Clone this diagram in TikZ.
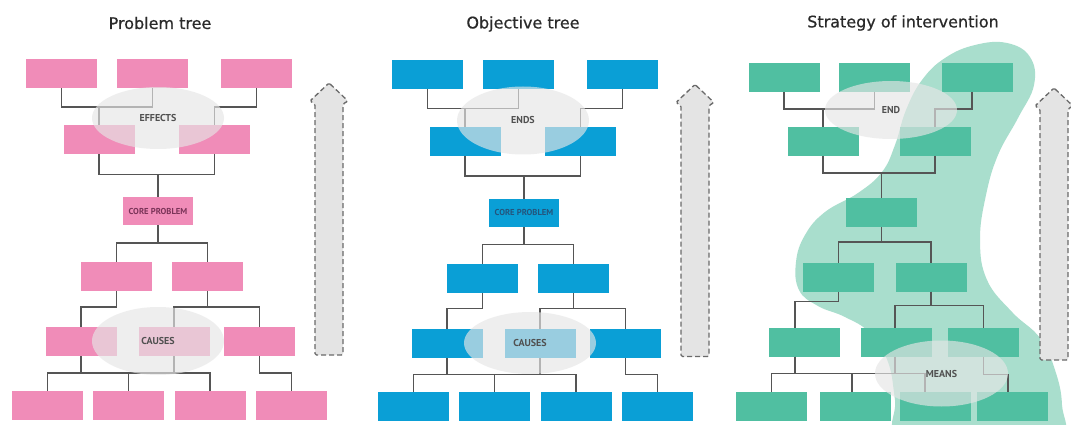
\documentclass[tikz,border=0pt]{standalone}
\usepackage{fontspec}
\setmainfont{DejaVu Sans}
\newfontfamily\titlefont[FakeBold=0.6]{DejaVu Sans}
\newfontfamily\labelfont{PT Sans}
\usetikzlibrary{shapes.geometric}

\definecolor{pinkbox}{HTML}{F08CB8}
\definecolor{bluebox}{HTML}{0A9FD6}
\definecolor{greenbox}{HTML}{50BFA1}
\definecolor{blobgreen}{HTML}{A9DECD}
\definecolor{linegray}{HTML}{555555}
\definecolor{hazegray}{HTML}{E6E6E6}
\definecolor{arrowfill}{HTML}{E4E4E4}
\definecolor{arrowline}{HTML}{6A6A6A}
\definecolor{labelgray}{HTML}{505050}
\definecolor{titlegray}{HTML}{2A2A2A}
\definecolor{corepink}{HTML}{7A3358}
\definecolor{coreblue}{HTML}{24557D}

\tikzset{
  box/.style={minimum width=71pt, minimum height=29pt, inner sep=0pt, outer sep=0pt},
  link/.style={draw=linegray, line width=1.9pt},
  haze/.style={ellipse, fill=hazegray, fill opacity=0.65, text opacity=1,
               inner sep=0pt, text=labelgray, font=\labelfont\bfseries\fontsize{10}{10}\selectfont},
  coretext/.style={font=\labelfont\bfseries\fontsize{8.6}{8.6}\selectfont},
  title/.style={font=\titlefont\fontsize{16}{16}\selectfont, text=titlegray},
  uparrow/.style={fill=arrowfill, draw=arrowline, dashed, dash pattern=on 5pt off 3pt,
                  line width=1.3pt, rounded corners=1.5pt}
}

% Connectors shared by the problem / objective trees (names get the scope prefix)
\newcommand\causetree{%
  \draw[link] (r1a.south) -- ++(0,19) -| (r2a.north);
  \draw[link] (r1b.south) -- ++(0,19) -| (r2a.north);
  \draw[link] (r1c.south) -- ++(0,19) -| (r2b.north);
  \draw[link] (r2a.south) -- ++(0,20) -| (core.north);
  \draw[link] (r2b.south) -- ++(0,20) -| (core.north);
  \draw[link] (core.south) -- ++(0,18) -| (r3a.north);
  \draw[link] (core.south) -- ++(0,18) -| (r3b.north);
  \draw[link] (r3a.south) -- ++(0,16) -| (r4a.north);
  \draw[link] (r3b.south) -- ++(0,16) -| (r4b.north);
  \draw[link] (r3b.south) -- ++(0,16) -| (r4c.north);
  \draw[link] (r4a.south) -- ++(0,17) -| (r5a.north);
  \draw[link] (r4a.south) -- ++(0,17) -| (r5b.north);
  \draw[link] (r4a.south) -- ++(0,17) -| (r5c.north);
  \draw[link] (r4b.south) -- ++(0,17) -| (r5c.north);
  \draw[link] (r4c.south) -- ++(0,17) -| (r5d.north);
}
% Boxes of the problem / objective trees: #1 fill, #2 core text, #3 core text colour
\newcommand\causeboxes[3]{%
  \node[box, fill=#1] (r1a) at (61.5,73.5) {};
  \node[box, fill=#1] (r1b) at (152.5,73.5) {};
  \node[box, fill=#1] (r1c) at (256.5,73.5) {};
  \node[box, fill=#1] (r2a) at (99,140) {};
  \node[box, fill=#1] (r2b) at (214.5,140) {};
  \node[box, fill=#1, minimum width=70pt, minimum height=28pt, coretext, text=#3] (core) at (158,211) {#2};
  \node[box, fill=#1] (r3a) at (116.5,276.5) {};
  \node[box, fill=#1] (r3b) at (207.5,276.5) {};
  \node[box, fill=#1] (r4a) at (81,341.5) {};
  \node[box, fill=#1] (r4b) at (174,341.5) {};
  \node[box, fill=#1] (r4c) at (259.5,341.5) {};
  \node[box, fill=#1] (r5a) at (47.5,405) {};
  \node[box, fill=#1] (r5b) at (128.5,405) {};
  \node[box, fill=#1] (r5c) at (210,405) {};
  \node[box, fill=#1] (r5d) at (291.5,405) {};
}

\begin{document}
\begin{tikzpicture}[x=1pt, y=-1pt]
  \useasboundingbox (0,0) rectangle (1071,425);
  \clip (0,0) rectangle (1071,425);
  \fill[white] (0,0) rectangle (1071,425);

  % ---------- Problem tree ----------
  \node[title] (t1) at (160,23) {Problem tree};
  \begin{scope}[name prefix=p-]
    \causeboxes{pinkbox}{CORE PROBLEM}{corepink}
    \causetree
    \causeboxes{pinkbox}{CORE PROBLEM}{corepink}
    \node[haze, minimum width=132pt, minimum height=62pt] (effects) at (158,118) {EFFECTS};
    \node[haze, minimum width=132pt, minimum height=68pt] (causes) at (158,341) {CAUSES};
    \draw[uparrow] (329,83) -- (348,101) -- (343,104) -- (343,355) -- (315,355)
                   -- (315,104) -- (310,101) -- cycle;
  \end{scope}

  % ---------- Objective tree ----------
  \node[title] (t2) at (523,24) {Objective tree};
  \begin{scope}[shift={(366,1.5)}, name prefix=o-]
    \causeboxes{bluebox}{CORE PROBLEM}{coreblue}
    \causetree
    \causeboxes{bluebox}{CORE PROBLEM}{coreblue}
    \node[haze, minimum width=132pt, minimum height=68pt] (ends) at (157,119) {ENDS};
    \node[haze, minimum width=132pt, minimum height=62pt] (causes) at (164,341.5) {CAUSES};
    \draw[uparrow] (329,83) -- (348,101) -- (343,104) -- (343,355) -- (315,355)
                   -- (315,104) -- (310,101) -- cycle;
  \end{scope}

  % ---------- Strategy of intervention ----------
  \node[title] (t3) at (903,23) {Strategy of intervention};
  \fill[blobgreen] plot[smooth cycle, tension=0.7] coordinates {
    (1007,43) (1030,57) (1034,85) (1018,118) (998,155) (986,195) (980,240)
    (987,280) (1012,312) (1040,338) (1055,370) (1062,405) (1058,440) (980,445)
    (900,438) (895,400) (888,362) (870,333) (845,317) (818,306) (799,290)
    (796,262) (805,235) (825,212) (858,193) (882,172) (895,145) (906,110)
    (922,80) (945,58) (975,45)};
  \begin{scope}[name prefix=s-]
    \node[box, fill=greenbox] (r1a) at (784,77.5) {};
    \node[box, fill=greenbox] (r1b) at (874.5,77.5) {};
    \node[box, fill=greenbox] (r1c) at (977.5,77.5) {};
    \node[box, fill=greenbox] (r2a) at (823,141.5) {};
    \node[box, fill=greenbox] (r2b) at (935,141.5) {};
    \node[box, fill=greenbox] (core) at (881.5,212.5) {};
    \node[box, fill=greenbox] (r3a) at (838.5,277) {};
    \node[box, fill=greenbox] (r3b) at (931,277) {};
    \node[box, fill=greenbox] (r4a) at (804.5,342) {};
    \node[box, fill=greenbox] (r4b) at (896.5,342) {};
    \node[box, fill=greenbox] (r4c) at (983.5,342) {};
    \node[box, fill=greenbox] (r5a) at (771.5,406.5) {};
    \node[box, fill=greenbox] (r5b) at (855.5,406.5) {};
    \node[box, fill=greenbox] (r5c) at (935.5,406.5) {};
    \node[box, fill=greenbox] (r5d) at (1012.5,406.5) {};

    \draw[link] (r1a.south) -- ++(0,17) -| (r2a.north);
    \draw[link] (r1b.south) -- ++(0,17) -| (r2a.north);
    \draw[link] ([xshift=-5.5pt]r1c.south) -- ++(0,17) -| (r2b.north);
    \draw[link] (r2a.south) -- ++(0,17) -| (core.north);
    \draw[link] (r2b.south) -- ++(0,17) -| (core.north);
    \draw[link] (core.south) -- ++(0,15) -| (r3a.north);
    \draw[link] (core.south) -- ++(0,15) -| (r3b.north);
    \draw[link] (r3a.south) -- ++(0,10) -| ([xshift=-9.5pt]r4a.north);
    \draw[link] (r3b.south) -- ++(0,14) -| ([xshift=-1.5pt]r4b.north);
    \draw[link] (r3b.south) -- ++(0,14) -| (r4c.north);
    \draw[link] ([xshift=-9.5pt]r4a.south) -- ++(0,17) -| (r5a.north);
    \draw[link] ([xshift=-9.5pt]r4a.south) -- ++(0,17) -| ([xshift=-3.5pt]r5b.north);
    \draw[link] ([xshift=-9.5pt]r4a.south) -- ++(0,17) -| ([xshift=-10.5pt]r5c.north);
    \draw[link] ([xshift=-1.5pt]r4b.south) -- ++(0,17) -| ([xshift=-10.5pt]r5c.north);
    \draw[link] (r4c.south) -- ++(0,18) -| ([xshift=-4.5pt]r5d.north);

    \node[haze, minimum width=132pt, minimum height=58pt] (end) at (891,110) {END};
    \node[haze, minimum width=133pt, minimum height=66pt] (means) at (941.5,373.5) {MEANS};
    \draw[uparrow] (1054,88) -- (1073,106) -- (1068,109) -- (1068,360) -- (1040,360)
                   -- (1040,109) -- (1035,106) -- cycle;
  \end{scope}
\end{tikzpicture}
\end{document}
